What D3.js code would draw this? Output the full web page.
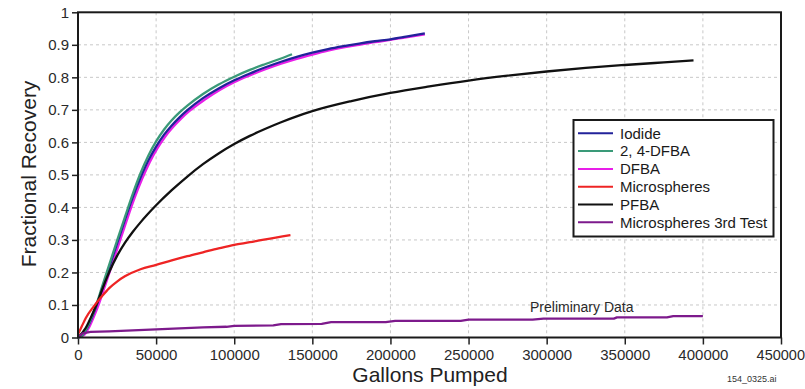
<!DOCTYPE html>
<html><head><meta charset="utf-8">
<script src="https://cdn.jsdelivr.net/npm/d3@7"></script>
<style>
html,body{margin:0;padding:0;background:#fff;}
svg{display:block;font-family:"Liberation Sans",Arial,sans-serif;}
</style></head>
<body><svg id="c" width="805" height="389"></svg>
<script>
// ---- data (gallons pumped, fractional recovery) ----
const xTicks = [0,50000,100000,150000,200000,250000,300000,350000,400000,450000];
const yTicks = [0,0.1,0.2,0.3,0.4,0.5,0.6,0.7,0.8,0.9,1];
const seriesNames = ["Iodide","2, 4-DFBA","DFBA","Microspheres","PFBA","Microspheres 3rd Test"];
const seriesColors = ["#22229a","#3a9a78","#e81ee8","#ee2424","#111111","#7d1a8c"];

const iodideX = [0,3000,6000,9000,12000,15000,20000,25000,30000,35000,40000,45000,50000,55000,60000,65000,70000,80000,90000,100000,110000,120000,130000,140000,150000,160000,170000,180000,190000,200000,210000,222000];
const iodideY = [0,0.008,0.03,0.062,0.1,0.1435,0.216,0.2885,0.361,0.43,0.491,0.544,0.587,0.623,0.652,0.677,0.699,0.736,0.766,0.791,0.812,0.831,0.848,0.863,0.876,0.887,0.896,0.904,0.911,0.917,0.925,0.935];

const dfba24X = [0,3000,6000,9000,12000,15000,20000,25000,30000,35000,40000,45000,50000,55000,60000,65000,70000,80000,90000,100000,110000,120000,130000,137000];
const dfba24Y = [0,0.008,0.032,0.066,0.105,0.15,0.224,0.298,0.37,0.441,0.505,0.559,0.603,0.639,0.668,0.692,0.713,0.749,0.778,0.802,0.823,0.841,0.858,0.871];

const dfbaX = [0,4000,7000,10000,13000,16000,21000,26000,31000,36000,41000,46000,51000,56000,61000,66000,71000,81000,91000,100000,110000,120000,130000,140000,150000,160000,170000,180000,190000,200000,210000,222000];
const dfbaY = [0,0.008,0.03,0.062,0.098,0.14,0.212,0.285,0.357,0.426,0.487,0.54,0.583,0.619,0.648,0.673,0.695,0.731,0.762,0.785,0.806,0.825,0.842,0.857,0.870,0.882,0.892,0.900,0.908,0.915,0.923,0.932];

const microX = [0,2500,5000,10000,15000,20000,25000,30000,40000,50000,60000,70000,80000,90000,100000,110000,120000,136000];
const microY = [0.01,0.035,0.06,0.095,0.125,0.152,0.172,0.188,0.21,0.223,0.237,0.25,0.262,0.274,0.285,0.293,0.302,0.315];

const pfbaX = [0,5000,9000,13000,15000,20000,25000,30000,35000,40000,50000,60000,70000,80000,90000,100000,110000,120000,130000,140000,150000,175000,200000,225000,250000,275000,300000,325000,350000,375000,394000];
const pfbaY = [0,0.03,0.07,0.115,0.1415,0.2015,0.251,0.291,0.3245,0.354,0.4065,0.453,0.495,0.533,0.566,0.595,0.62,0.642,0.662,0.68,0.696,0.727,0.752,0.772,0.79,0.805,0.818,0.829,0.838,0.846,0.852];

const micro3X = [0,3000,8000,20000,35000,50000,65000,80000,95000,100000,125000,130000,156000,162000,197000,203000,245000,250000,291000,298000,343000,345000,377000,381000,400000];
const micro3Y = [0,0.013,0.017,0.019,0.022,0.025,0.028,0.031,0.033,0.036,0.037,0.041,0.042,0.047,0.047,0.051,0.051,0.055,0.055,0.058,0.058,0.062,0.062,0.066,0.066];

const annotation = "Preliminary Data";
const fileTag = "154_0325.ai";

// ---- layout ----
const svg = d3.select("#c");
const L = 78, R = 781, T = 12.3, B = 337.5;
const x = d3.scaleLinear().domain([0,450000]).range([L,R]);
const y = d3.scaleLinear().domain([0,1]).range([B,T]);

// grid
const grid = svg.append("g");
grid.selectAll("line.v").data(xTicks.slice(1,-1)).enter().append("line")
  .attr("x1",d=>x(d)).attr("x2",d=>x(d)).attr("y1",T).attr("y2",B)
  .attr("stroke","#c8c8c8").attr("stroke-width",1).attr("stroke-dasharray","3,3");
grid.selectAll("line.h").data(yTicks.slice(1,-1)).enter().append("line")
  .attr("x1",L).attr("x2",R).attr("y1",d=>y(d)).attr("y2",d=>y(d))
  .attr("stroke","#c8c8c8").attr("stroke-width",1).attr("stroke-dasharray","3,3");

// axes
const fmtY = d => d===0 ? "0" : (d===1 ? "1" : d3.format(".1f")(d));
const yAxis = svg.append("g").attr("transform",`translate(${L},0)`)
  .call(d3.axisLeft(y).tickValues(yTicks).tickFormat(fmtY).tickSize(6).tickPadding(3));
const xAxis = svg.append("g").attr("transform",`translate(0,${B})`)
  .call(d3.axisBottom(x).tickValues(xTicks).tickFormat(d3.format("d")).tickSize(7).tickPadding(5));
[yAxis,xAxis].forEach(a=>{
  a.select(".domain").remove();
  a.selectAll(".tick line").attr("stroke","#222").attr("stroke-width",1.5);
  a.selectAll(".tick text").attr("fill","#2a2a2a").style("font-size","15px")
   .style("font-family","'Liberation Sans',Arial,sans-serif");
});
// keep the last x label inside the canvas
xAxis.selectAll(".tick text").filter(d=>d===450000)
  .attr("text-anchor","end").attr("x",23.5).style("font-size","14.5px");

// series
const sets = [
  {x:dfbaX,y:dfbaY,c:seriesColors[2],curve:d3.curveMonotoneX},
  {x:iodideX,y:iodideY,c:seriesColors[0],curve:d3.curveMonotoneX},
  {x:dfba24X,y:dfba24Y,c:seriesColors[1],curve:d3.curveMonotoneX},
  {x:pfbaX,y:pfbaY,c:seriesColors[4],curve:d3.curveMonotoneX},
  {x:microX,y:microY,c:seriesColors[3],curve:d3.curveMonotoneX},
  {x:micro3X,y:micro3Y,c:seriesColors[5],curve:d3.curveLinear}
];
sets.forEach(s=>{
  const pts = s.x.map((v,i)=>[v,s.y[i]]);
  svg.append("path").datum(pts)
    .attr("d",d3.line().x(d=>x(d[0])).y(d=>y(d[1])).curve(s.curve))
    .attr("fill","none").attr("stroke",s.c).attr("stroke-width",2.3)
    .attr("stroke-linejoin","round");
});

// frame
svg.append("rect").attr("x",L).attr("y",T).attr("width",R-L).attr("height",B-T)
  .attr("fill","none").attr("stroke","#1a1a1a").attr("stroke-width",2);

// annotation
svg.append("text").attr("x",530).attr("y",312).text(annotation)
  .style("font-size","14px").attr("fill","#2a2a2a");

// axis titles
svg.append("text").attr("x",430).attr("y",382).attr("text-anchor","middle")
  .text("Gallons Pumped").style("font-size","21px").attr("fill","#222");
svg.append("text").attr("transform","translate(36,174) rotate(-90)").attr("text-anchor","middle")
  .text("Fractional Recovery").style("font-size","21px").attr("fill","#222");
svg.append("text").attr("x",727).attr("y",381.5).text(fileTag)
  .style("font-size","9px").attr("fill","#333");

// legend
const lg = svg.append("g");
lg.append("rect").attr("x",573.5).attr("y",120).attr("width",200).attr("height",116.5)
  .attr("fill","#fff").attr("stroke","#1a1a1a").attr("stroke-width",2);
seriesNames.forEach((n,i)=>{
  const yy = 133.3 + i*17.8;
  lg.append("line").attr("x1",578).attr("x2",613).attr("y1",yy).attr("y2",yy)
    .attr("stroke",seriesColors[i]).attr("stroke-width",2);
  lg.append("text").attr("x",620).attr("y",yy+5.3).text(n)
    .style("font-size","15px").attr("fill","#1a1a1a");
});
</script></body></html>
